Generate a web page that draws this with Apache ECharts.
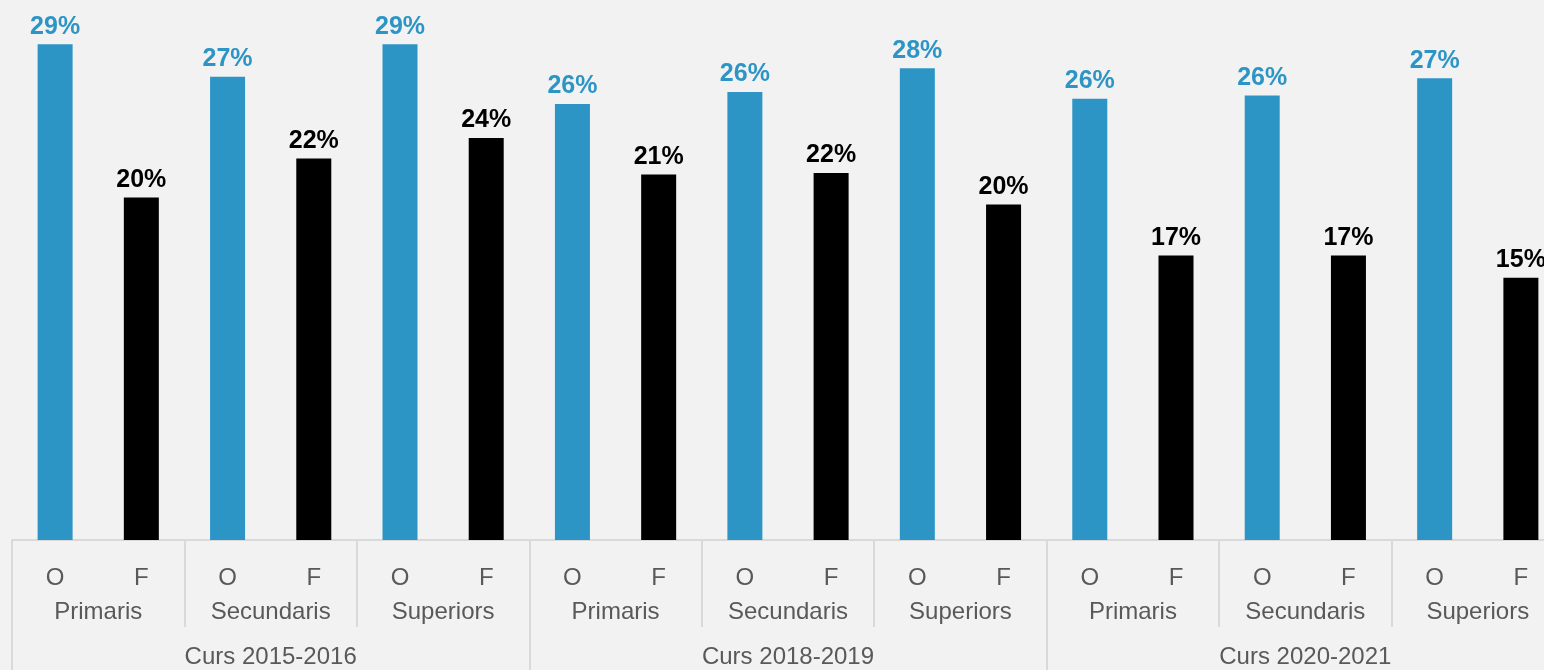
<!DOCTYPE html>
<html><head><meta charset="utf-8">
<script src="https://cdn.jsdelivr.net/npm/echarts@6/dist/echarts.min.js"></script>
<style>html,body{margin:0;padding:0;background:#f2f2f2}#c{width:1544px;height:670px}</style>
</head><body><div id="c"></div>
<script>
const years = ['Curs 2015-2016', 'Curs 2018-2019', 'Curs 2020-2021'];
const levels = ['Primaris', 'Secundaris', 'Superiors'];
const genders = ['O', 'F'];
// values in %, order: year x level
const oValues = [29.1, 27.2, 29.1, 25.6, 26.3, 27.7, 25.9, 26.1, 27.1];
const fValues = [20.1, 22.4, 23.6, 21.45, 21.55, 19.7, 16.7, 16.7, 15.4];

const BLUE = '#2c95c6', BLACK = '#000000';
const FONT = "'Liberation Sans', Arial, sans-serif";

const genderCats = [], levelCats = [], barData = [];
years.forEach((y, yi) => {
  levels.forEach((l, li) => {
    levelCats.push(l);
    const k = yi * levels.length + li;
    genders.forEach(g => {
      genderCats.push(g);
      const isO = g === 'O';
      barData.push({
        value: isO ? oValues[k] : fValues[k],
        itemStyle: { color: isO ? BLUE : BLACK },
        label: { color: isO ? BLUE : BLACK }
      });
    });
  });
});

const tickStyle = { color: '#d9d9d9', width: 2 };
const labelBase = { fontFamily: FONT, fontSize: 24, lineHeight: 24, color: '#595959', interval: 0 };

const chart = echarts.init(document.getElementById('c'), null, { renderer: 'canvas' });
chart.setOption({
  animation: false,
  backgroundColor: '#f2f2f2',
  grid: { left: 12, top: 0, width: 1552, height: 540, containLabel: false, outerBoundsMode: 'none' },
  yAxis: { type: 'value', min: 0, max: 31.7, show: false },
  xAxis: [
    {
      type: 'category', data: genderCats, position: 'bottom',
      axisLine: { show: true, lineStyle: tickStyle },
      axisTick: { show: false },
      axisLabel: Object.assign({}, labelBase, { margin: 26 })
    },
    {
      type: 'category', data: levelCats, position: 'bottom',
      axisLine: { show: false },
      axisTick: { show: true, interval: 0, length: 87, lineStyle: tickStyle },
      axisLabel: Object.assign({}, labelBase, { margin: 60 })
    },
    {
      type: 'category', data: years, position: 'bottom',
      axisLine: { show: false },
      axisTick: { show: true, interval: 0, length: 130, lineStyle: tickStyle },
      axisLabel: Object.assign({}, labelBase, { margin: 105 })
    }
  ],
  series: [{
    type: 'bar',
    xAxisIndex: 0,
    barWidth: 35,
    data: barData,
    label: {
      show: true, position: 'top', distance: 5,
      fontFamily: FONT, fontSize: 25, fontWeight: 'bold',
      formatter: p => Math.round(p.value) + '%'
    }
  }]
});
</script>
</body></html>
